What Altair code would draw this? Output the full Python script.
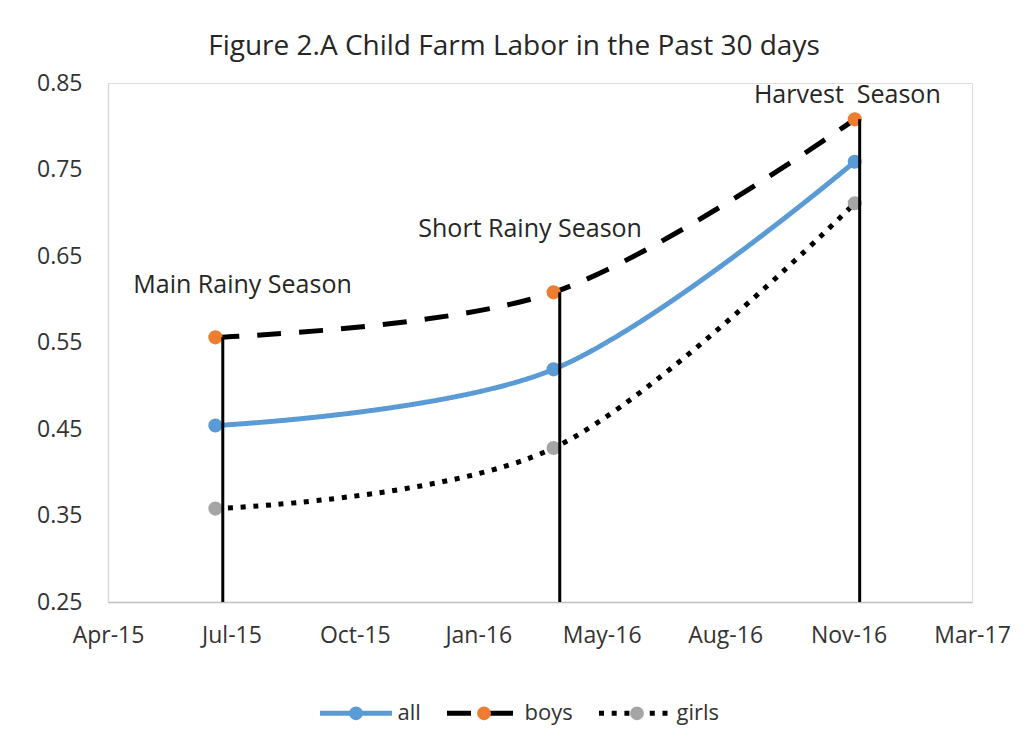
import altair as alt
import pandas as pd

# ---- data ----
series_names = ["all", "boys", "girls"]
point_dates = ["2015-06-27T00:00:00", "2016-03-27T00:00:00", "2016-11-26T00:00:00"]
all_values = [0.454, 0.519, 0.759]
boys_values = [0.556, 0.608, 0.808]
girls_values = [0.358, 0.428, 0.711]

drop_dates = ["2015-07-03T00:00:00", "2016-04-01T00:00:00", "2016-11-30T00:00:00"]
drop_tops = [0.556, 0.608, 0.808]
axis_floor = 0.25

season_labels = ["Main Rainy Season", "Short Rainy Season", "Harvest\u00a0 Season"]
season_dates = ["2015-07-19T00:00:00", "2016-03-08T00:00:00", "2016-11-20T00:00:00"]
season_values = [0.607, 0.672, 0.827]

y_ticks = [0.25, 0.35, 0.45, 0.55, 0.65, 0.75, 0.85]
# x ticks (Excel date axis, one every 100 days)
x_tick_ymd = [(2015, 4, 1), (2015, 7, 10), (2015, 10, 18), (2016, 1, 26),
              (2016, 5, 5), (2016, 8, 13), (2016, 11, 21), (2017, 3, 1)]

line_colors = ["#5B9BD5", "#000000", "#000000"]
point_colors = ["#5B9BD5", "#ED7D31", "#A5A5A5"]
dashes = [[1, 0], [24, 18], [5, 7.7]]

FONT = "Open Sans"
TXT = "#333333"
ZW = "\u200b"  # zero-width mark keeps the marker legend separate from the line legend

# ---- tables ----
rows = []
for name, vals in zip(series_names, [all_values, boys_values, girls_values]):
    for d, v in zip(point_dates, vals):
        rows.append({"series": name, "series_pt": name + ZW, "date": d, "value": v})
df = pd.DataFrame(rows)

drop_df = pd.DataFrame({"date": drop_dates, "top": drop_tops,
                        "bottom": [axis_floor] * len(drop_dates)})
season_df = pd.DataFrame({"date": season_dates, "value": season_values,
                          "label": season_labels})

x_ticks = [alt.DateTime(year=y, month=m, date=d) for (y, m, d) in x_tick_ymd]

x_enc = alt.X(
    "date:T",
    scale=alt.Scale(domain=[x_ticks[0], x_ticks[-1]], nice=False),
    axis=alt.Axis(values=x_ticks, format="%b-%y", title=None, ticks=False, grid=False,
                  labelFont=FONT, labelFontSize=23, labelColor=TXT, labelPadding=22,
                  domainColor="#BFBFBF", domainWidth=1.5, labelFlush=False,
                  labelOverlap=False),
)
y_enc = alt.Y(
    "value:Q",
    scale=alt.Scale(domain=[y_ticks[0], y_ticks[-1]], nice=False, zero=False),
    axis=alt.Axis(values=y_ticks, format=".2f", title=None, ticks=False, grid=False,
                  labelFont=FONT, labelFontSize=23, labelColor=TXT, labelPadding=26,
                  domainColor="#D9D9D9", domainWidth=1.5, labelFlush=False),
)

legend_common = dict(
    title=None, orient="none", legendX=209.5, legendY=591.5, direction="horizontal",
    columns=3, symbolSize=5184, symbolStrokeWidth=5, labelFont=FONT, labelFontSize=22,
    labelOffset=3, padding=0, labelLimit=0,
)
line_legend = alt.Legend(symbolType="M-1,0L1,0", labelColor=TXT, columnPadding=15,
                         **legend_common)
point_legend = alt.Legend(
    symbolType="M0.19,0A0.19,0.19,0,1,1,-0.19,0A0.19,0.19,0,1,1,0.19,0Z",
    symbolStrokeColor="transparent", labelOpacity=0, labelColor="transparent",
    columnPadding=24, **legend_common)

lines = alt.Chart(df).mark_line(interpolate="cardinal", strokeWidth=5).encode(
    x=x_enc,
    y=y_enc,
    color=alt.Color("series:N", scale=alt.Scale(domain=series_names, range=line_colors),
                    legend=line_legend),
    strokeDash=alt.StrokeDash("series:N", scale=alt.Scale(domain=series_names, range=dashes),
                              legend=line_legend),
)

points = alt.Chart(df).mark_circle(size=200, opacity=1).encode(
    x="date:T",
    y="value:Q",
    fill=alt.Fill("series_pt:N",
                  scale=alt.Scale(domain=[n + ZW for n in series_names], range=point_colors),
                  legend=point_legend),
)

drops = alt.Chart(drop_df).mark_rule(color="black", strokeWidth=3).encode(
    x="date:T", y="top:Q", y2="bottom:Q"
)

seasons = alt.Chart(season_df).mark_text(
    font=FONT, fontSize=25, color="#262626", align="center", baseline="alphabetic"
).encode(x="date:T", y="value:Q", text="label:N")

chart = alt.layer(lines, points, drops, seasons).properties(
    width=864,
    height=519,
    autosize=alt.AutoSizeParams(type="none"),
    padding={"left": 100, "top": 75, "right": 45, "bottom": 137},
    title=alt.TitleParams(
        "Figure 2.A Child Farm Labor in the Past 30 days",
        font=FONT, fontSize=28, fontWeight="normal", color="#262626",
        anchor="middle", frame="group", dx=-26, offset=11,
    ),
).configure_view(stroke=None).configure(background="white")

chart.save("out.html", embed_options={"renderer": "svg", "actions": False})
